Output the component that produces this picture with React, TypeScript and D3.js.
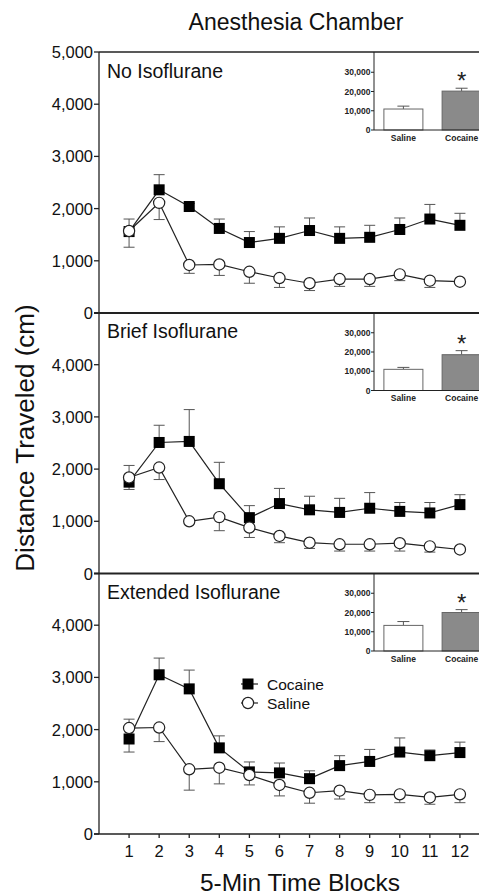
import React from 'react';
import * as d3 from 'd3';

// page size
const W = 479;
const H = 895;
const font = 'Liberation Sans, Arial, sans-serif';

// time blocks on the x axis
const blocks = [1, 2, 3, 4, 5, 6, 7, 8, 9, 10, 11, 12];
const yTicksTop = [0, 1000, 2000, 3000, 4000, 5000];
const yTicksLower = [0, 1000, 2000, 3000, 4000];
const insetTicks = [0, 10000, 20000, 30000];
const insetGroups = ['Saline', 'Cocaine'];

// panel names
const panelNames = ['No Isoflurane', 'Brief Isoflurane', 'Extended Isoflurane'];

// mean distance per block (cm), and top of error bar for cocaine / bottom for saline
const noIsoCocaine = [1560, 2360, 2040, 1620, 1350, 1430, 1580, 1430, 1450, 1600, 1800, 1680];
const noIsoCocaineErr = [1800, 2650, 2100, 1800, 1560, 1650, 1820, 1650, 1680, 1820, 2080, 1910];
const noIsoSaline = [1570, 2110, 920, 930, 790, 670, 570, 650, 650, 740, 620, 600];
const noIsoSalineErr = [1260, 1790, 760, 720, 570, 490, 430, 510, 510, 620, 490, 580];

const briefCocaine = [1750, 2510, 2530, 1720, 1070, 1340, 1220, 1170, 1250, 1190, 1160, 1320];
const briefCocaineErr = [2070, 2840, 3140, 2130, 1300, 1630, 1480, 1440, 1550, 1360, 1360, 1510];
const briefSaline = [1840, 2030, 1000, 1080, 880, 720, 590, 560, 560, 580, 520, 460];
const briefSalineErr = [1610, 1800, 990, 820, 690, 590, 480, 430, 430, 430, 410, 450];

const extCocaine = [1820, 3050, 2780, 1650, 1190, 1170, 1060, 1310, 1390, 1570, 1500, 1560];
const extCocaineErr = [2200, 3370, 3140, 1880, 1380, 1360, 1210, 1500, 1620, 1840, 1610, 1760];
const extSaline = [2030, 2040, 1240, 1270, 1130, 940, 790, 830, 750, 760, 700, 760];
const extSalineErr = [1570, 1770, 840, 960, 940, 730, 590, 670, 600, 600, 570, 600];

// inset totals (saline, cocaine) and error tops
const insetNoIso = [10900, 20200];
const insetNoIsoErr = [12400, 21700];
const insetBrief = [11000, 18600];
const insetBriefErr = [12000, 20700];
const insetExt = [13300, 20000];
const insetExtErr = [15300, 21500];

const panelTops = [52, 312.5, 573];
const panelH = 261;
const axisX = 99;

const x = d3.scaleLinear().domain([0, 13]).range([axisX, 490]);

const panels = [
  { name: panelNames[0], coc: noIsoCocaine, cocErr: noIsoCocaineErr, sal: noIsoSaline, salErr: noIsoSalineErr, inset: insetNoIso, insetErr: insetNoIsoErr, ticks: yTicksTop },
  { name: panelNames[1], coc: briefCocaine, cocErr: briefCocaineErr, sal: briefSaline, salErr: briefSalineErr, inset: insetBrief, insetErr: insetBriefErr, ticks: yTicksLower },
  { name: panelNames[2], coc: extCocaine, cocErr: extCocaineErr, sal: extSaline, salErr: extSalineErr, inset: insetExt, insetErr: insetExtErr, ticks: yTicksLower },
];

const fmt = d3.format(',');
const lineCol = '#222';
const errCol = '#555';
const sq = 11; // square marker size
const rad = 5.6; // circle marker radius
const cap = 5.5; // half width of error caps

function Panel({ p, top, last }: { p: any; top: number; last: boolean }) {
  const y = d3.scaleLinear().domain([0, 5000]).range([top + panelH, top]);
  const line = d3.line<number>().x((d, i) => x(blocks[i])).y((d) => y(d));

  // inset scales
  const iy = d3.scaleLinear().domain([0, 40000]).range([top + 78, top + 1]);
  const ix = d3.scaleBand().domain(insetGroups).range([374, 491]).paddingInner(0.33).paddingOuter(0.17);
  const iBase = iy(0);

  return (
    <g>
      {/* y ticks and labels */}
      {p.ticks.map((t: number) => (
        <g key={t}>
          <line x1={axisX - 5} x2={axisX} y1={y(t)} y2={y(t)} stroke={lineCol} strokeWidth={1.3} />
          <text x={axisX - 6} y={y(t) + 6} textAnchor="end" fontSize={16.5} fontFamily={font} fill="#111">{fmt(t)}</text>
        </g>
      ))}
      {/* frame line at bottom of panel */}
      <line x1={axisX - 5} x2={W} y1={top + panelH} y2={top + panelH} stroke={lineCol} strokeWidth={last ? 1.3 : 1.8} />

      <text x={107} y={top + 25.5} fontSize={19.5} fontFamily={font} fill="#111">{p.name}</text>

      {/* error bars: cocaine up, saline down */}
      {blocks.map((b, i) => (
        <g key={'e' + b} stroke={errCol} strokeWidth={1}>
          <line x1={x(b)} x2={x(b)} y1={y(p.coc[i])} y2={y(p.cocErr[i])} />
          <line x1={x(b) - cap} x2={x(b) + cap} y1={y(p.cocErr[i])} y2={y(p.cocErr[i])} />
          <line x1={x(b)} x2={x(b)} y1={y(p.sal[i])} y2={y(p.salErr[i])} />
          <line x1={x(b) - cap} x2={x(b) + cap} y1={y(p.salErr[i])} y2={y(p.salErr[i])} />
        </g>
      ))}

      <path d={line(p.coc) || ''} fill="none" stroke={lineCol} strokeWidth={1.2} />
      <path d={line(p.sal) || ''} fill="none" stroke={lineCol} strokeWidth={1.2} />

      {blocks.map((b, i) => (
        <rect key={'s' + b} x={x(b) - sq / 2} y={y(p.coc[i]) - sq / 2} width={sq} height={sq} fill="#000" />
      ))}
      {blocks.map((b, i) => (
        <circle key={'c' + b} cx={x(b)} cy={y(p.sal[i])} r={rad} fill="#fff" stroke={lineCol} strokeWidth={1.2} />
      ))}

      {/* inset bar chart */}
      <g>
        {insetGroups.map((g, i) => (
          <g key={g}>
            <line x1={ix(g)! + ix.bandwidth() / 2} x2={ix(g)! + ix.bandwidth() / 2} y1={iy(p.inset[i])} y2={iy(p.insetErr[i])} stroke={errCol} strokeWidth={1} />
            <line x1={ix(g)! + ix.bandwidth() / 2 - 6} x2={ix(g)! + ix.bandwidth() / 2 + 6} y1={iy(p.insetErr[i])} y2={iy(p.insetErr[i])} stroke={errCol} strokeWidth={1} />
            <rect x={ix(g)} y={iy(p.inset[i])} width={ix.bandwidth()} height={iBase - iy(p.inset[i])}
              fill={i === 0 ? '#fff' : '#8a8a8a'} stroke="#666" strokeWidth={1} />
            <text x={ix(g)! + ix.bandwidth() / 2} y={iBase + 10.5} textAnchor="middle" fontSize={8.5} fontWeight="bold" fontFamily={font} fill="#222">{g}</text>
          </g>
        ))}
        <text x={ix('Cocaine')! + ix.bandwidth() / 2} y={iy(p.insetErr[1]) + 1} textAnchor="middle" fontSize={24} fontFamily={font} fill="#222">*</text>
        <line x1={374} x2={374} y1={top} y2={iBase} stroke={lineCol} strokeWidth={1} />
        <line x1={374} x2={W} y1={iBase} y2={iBase} stroke={lineCol} strokeWidth={1} />
        {insetTicks.map((t) => (
          <g key={t}>
            <line x1={371} x2={374} y1={iy(t)} y2={iy(t)} stroke={lineCol} strokeWidth={1} />
            <text x={370.5} y={iy(t) + 3} textAnchor="end" fontSize={8.5} fontWeight="bold" fontFamily={font} fill="#222">{fmt(t)}</text>
          </g>
        ))}
      </g>
    </g>
  );
}

export default function App() {
  const bottom = panelTops[2] + panelH;
  return (
    <div style={{ position: 'absolute', left: 0, top: 0 }}>
      <svg width={W} height={H} style={{ display: 'block', background: '#fff' }}>
        <text x={296} y={30} textAnchor="middle" fontSize={23} fontFamily={font} fill="#111">Anesthesia Chamber</text>

        {/* top border and y axis */}
        <line x1={axisX} x2={W} y1={panelTops[0]} y2={panelTops[0]} stroke={lineCol} strokeWidth={1.3} />
        <line x1={axisX} x2={axisX} y1={panelTops[0]} y2={bottom} stroke={lineCol} strokeWidth={1.3} />

        {panels.map((p, i) => (
          <Panel key={p.name} p={p} top={panelTops[i]} last={i === 2} />
        ))}

        {/* x ticks */}
        {blocks.map((b) => (
          <g key={b}>
            <line x1={x(b)} x2={x(b)} y1={bottom} y2={bottom + 4} stroke={lineCol} strokeWidth={1.3} />
            <text x={x(b)} y={bottom + 23} textAnchor="middle" fontSize={16.5} fontFamily={font} fill="#111">{b}</text>
          </g>
        ))}

        <text x={300} y={891} textAnchor="middle" fontSize={24.5} fontFamily={font} fill="#111">5-Min Time Blocks</text>
        <text transform="translate(34,438) rotate(-90)" textAnchor="middle" fontSize={26} fontFamily={font} fill="#111">Distance Traveled (cm)</text>

        {/* legend */}
        <g>
          <line x1={241} x2={258} y1={684} y2={684} stroke={lineCol} strokeWidth={1.2} />
          <rect x={248 - sq / 2} y={684 - sq / 2} width={sq} height={sq} fill="#000" />
          <text x={267} y={689.5} fontSize={15.5} fontFamily={font} fill="#111">Cocaine</text>
          <line x1={241} x2={258} y1={703} y2={703} stroke={lineCol} strokeWidth={1.2} />
          <circle cx={248} cy={703} r={rad} fill="#fff" stroke={lineCol} strokeWidth={1.2} />
          <text x={267} y={708.5} fontSize={15.5} fontFamily={font} fill="#111">Saline</text>
        </g>
      </svg>
    </div>
  );
}
